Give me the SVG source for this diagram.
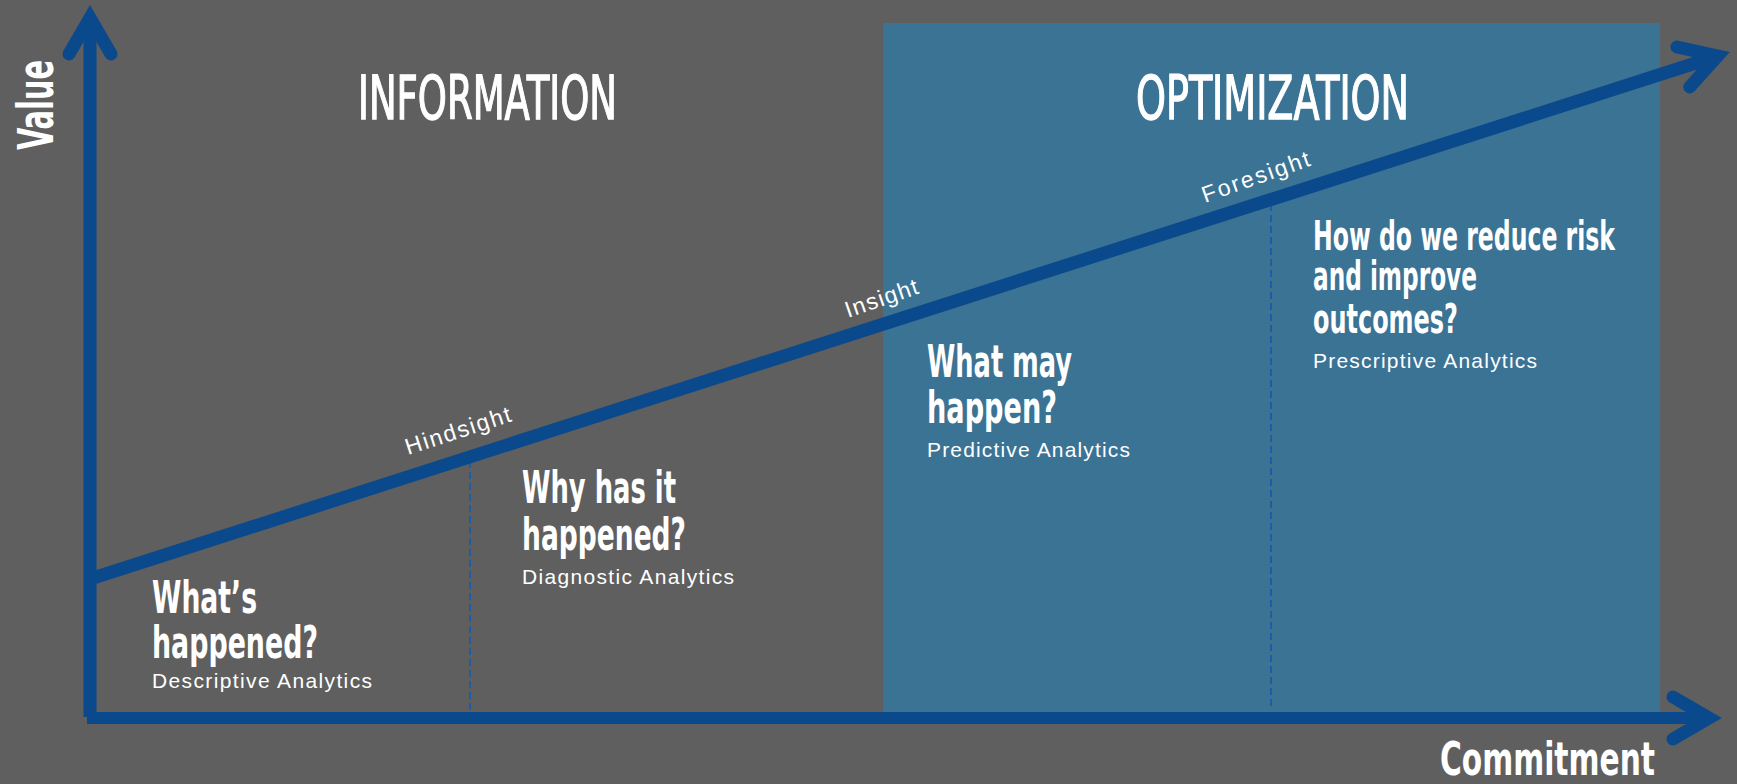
<svg xmlns="http://www.w3.org/2000/svg" width="1737" height="784" viewBox="0 0 1737 784">
  <style>
    .cond { font-family: "Liberation Sans Narrow", "DejaVu Sans Condensed", "Liberation Sans", sans-serif; fill: #ffffff; }
    .title { font-size: 60px; font-weight: normal; stroke: #ffffff; stroke-width: 1.3px; }
    .head { font-size: 44px; font-weight: bold; }
    .head2 { font-size: 40px; font-weight: bold; }
    .axislabel { font-size: 50px; font-weight: bold; }
    .sub { font-family: "Liberation Sans", Arial, sans-serif; font-size: 21px; fill: #ffffff; }
    .tag { font-family: "Liberation Sans", Arial, sans-serif; font-size: 23px; fill: #ffffff; }
    .axis { stroke: #0a4a8c; stroke-width: 13; fill: none; }
    .dash { stroke: #1d5ca6; stroke-width: 2; stroke-dasharray: 7 4; fill: none; }
  </style>
  <defs>
    <marker id="head" markerUnits="userSpaceOnUse" orient="auto" refX="0" refY="0" markerWidth="100" markerHeight="100" viewBox="-60 -50 100 100" overflow="visible">
      <path d="M -36,-21 L 0,0 L -36,21" stroke="#0a4a8c" stroke-width="13" fill="none" stroke-linecap="round" stroke-linejoin="miter" stroke-miterlimit="10"/>
    </marker>
  </defs>

  <rect id="background" x="0" y="0" width="1737" height="784" fill="#5f5f5f"/>
  <rect id="optimization-panel" x="883" y="23" width="777" height="690" fill="#3b7395"/>

  <g id="connectors">
    <line class="dash" x1="470" y1="461" x2="470" y2="710"/>
    <line class="dash" x1="1271" y1="204" x2="1271" y2="710"/>
    <path id="value-axis" class="axis" d="M 90,717 L 90,18" marker-end="url(#head)"/>
    <path id="commitment-axis" class="axis" d="M 87,718 L 1709,718" style="stroke-width:12" marker-end="url(#head)"/>
    <path id="trend" class="axis" d="M 90,579 L 1717.6,56" marker-end="url(#head)"/>
  </g>

  <g id="axis-labels">
    <text class="cond axislabel" transform="translate(53,150) rotate(-90)" x="0" y="0" textLength="90" lengthAdjust="spacingAndGlyphs">Value</text>
    <text class="cond axislabel" x="1440" y="775" style="font-size:46px" textLength="215" lengthAdjust="spacingAndGlyphs">Commitment</text>
  </g>

  <g id="information-title">
    <text class="cond title" x="358" y="119" textLength="259" lengthAdjust="spacingAndGlyphs">INFORMATION</text>
  </g>
  <g id="optimization-title">
    <text class="cond title" x="1136" y="119" textLength="273" lengthAdjust="spacingAndGlyphs">OPTIMIZATION</text>
  </g>

  <g id="tags">
    <text class="tag" transform="translate(408,455) rotate(-18)" textLength="110" lengthAdjust="spacing">Hindsight</text>
    <text class="tag" transform="translate(848,318) rotate(-19)" textLength="76" lengthAdjust="spacing">Insight</text>
    <text class="tag" transform="translate(1205,203) rotate(-19.5)" textLength="113" lengthAdjust="spacing">Foresight</text>
  </g>

  <g id="descriptive">
    <text class="cond head" x="152" y="613" textLength="105" lengthAdjust="spacingAndGlyphs">What’s</text>
    <text class="cond head" x="152" y="658" textLength="166" lengthAdjust="spacingAndGlyphs">happened?</text>
    <text class="sub" x="152" y="688" textLength="220" lengthAdjust="spacing">Descriptive Analytics</text>
  </g>

  <g id="diagnostic">
    <text class="cond head" x="522" y="503" textLength="154" lengthAdjust="spacingAndGlyphs">Why has it</text>
    <text class="cond head" x="522" y="550" textLength="164" lengthAdjust="spacingAndGlyphs">happened?</text>
    <text class="sub" x="522" y="584" textLength="212" lengthAdjust="spacing">Diagnostic Analytics</text>
  </g>

  <g id="predictive">
    <text class="cond head" x="927" y="377" textLength="145" lengthAdjust="spacingAndGlyphs">What may</text>
    <text class="cond head" x="927" y="423" textLength="130" lengthAdjust="spacingAndGlyphs">happen?</text>
    <text class="sub" x="927" y="457" textLength="203" lengthAdjust="spacing">Predictive Analytics</text>
  </g>

  <g id="prescriptive">
    <text class="cond head2" x="1313" y="250" textLength="302" lengthAdjust="spacingAndGlyphs">How do we reduce risk</text>
    <text class="cond head2" x="1313" y="290" textLength="164" lengthAdjust="spacingAndGlyphs">and improve</text>
    <text class="cond head2" x="1313" y="333" textLength="145" lengthAdjust="spacingAndGlyphs">outcomes?</text>
    <text class="sub" x="1313" y="368" textLength="224" lengthAdjust="spacing">Prescriptive Analytics</text>
  </g>
</svg>
